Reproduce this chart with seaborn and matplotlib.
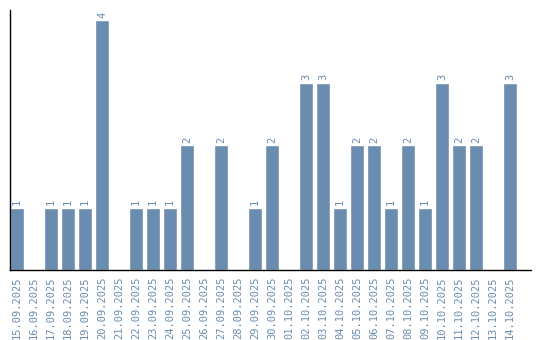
import matplotlib
matplotlib.use("Agg")
import matplotlib.pyplot as plt
import seaborn as sns

dates = ["15.09.2025", "16.09.2025", "17.09.2025", "18.09.2025", "19.09.2025",
         "20.09.2025", "21.09.2025", "22.09.2025", "23.09.2025", "24.09.2025",
         "25.09.2025", "26.09.2025", "27.09.2025", "28.09.2025", "29.09.2025",
         "30.09.2025", "01.10.2025", "02.10.2025", "03.10.2025", "04.10.2025",
         "05.10.2025", "06.10.2025", "07.10.2025", "08.10.2025", "09.10.2025",
         "10.10.2025", "11.10.2025", "12.10.2025", "13.10.2025", "14.10.2025"]
counts = [1, 0, 1, 1, 1, 4, 0, 1, 1, 1, 2, 0, 2, 0, 1, 2, 0, 3, 3, 1,
          2, 2, 1, 2, 1, 3, 2, 2, 0, 3]

bar_color = "#6a8caf"
text_color = "#6a8caf"

sns.set_style("white")
plt.rcParams['font.family'] = ['DejaVu Sans Mono', 'DejaVu Sans']

fig = plt.figure(figsize=(5.4, 3.4), dpi=100)
ax = fig.add_axes([10/540, 70/340, 521/540, 260/340])

sns.barplot(x=dates, y=counts, color=bar_color, saturation=1, width=0.82, ax=ax)

for i, v in enumerate(counts):
    if v > 0:
        ax.annotate(str(v), (i, v), xytext=(0, 1.5), textcoords="offset points",
                    rotation=90, ha="center", va="bottom", fontsize=7.5, color=text_color)

ax.set_xlim(-0.41, 30.23)
ax.set_ylim(0, 4.16)
ax.set_yticks([])
ax.tick_params(axis="x", length=0, pad=4.5, labelsize=7.5, labelcolor=text_color)
for lbl in ax.get_xticklabels():
    lbl.set_rotation(90)
    lbl.set_va("top")
    lbl.set_ha("center")
for s in ["top", "right"]:
    ax.spines[s].set_visible(False)
for s in ["left", "bottom"]:
    ax.spines[s].set_color("black")
    ax.spines[s].set_linewidth(1.0)
ax.set_xlabel("")
ax.set_ylabel("")

fig.savefig("out.png", dpi=100)
